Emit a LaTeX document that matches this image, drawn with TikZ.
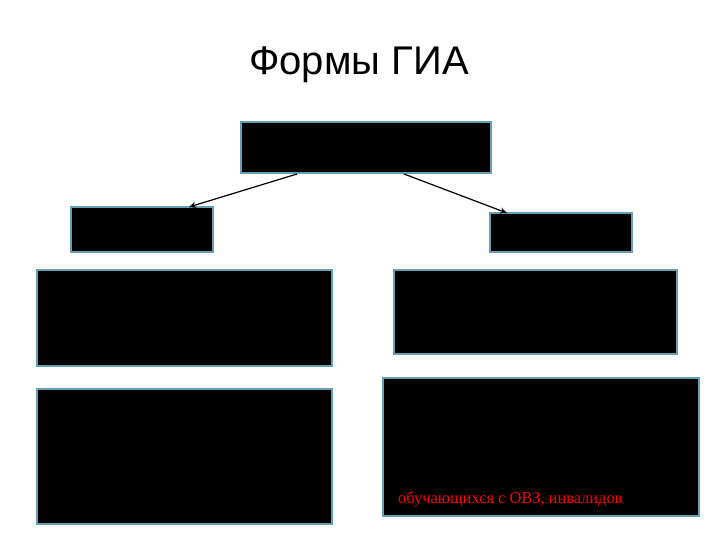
\documentclass[tikz,border=0pt]{standalone}
\usepackage{fontspec}
\setmainfont{Liberation Serif}
\newfontfamily\titlefont{Liberation Sans}
\usetikzlibrary{positioning, shapes, fit, calc, arrows.meta}
\definecolor{boxedge}{RGB}{100,160,180}

\begin{document}
\begin{tikzpicture}[x=1bp, y=-1bp, every node/.style={inner sep=0pt}]
			\tikzset{blackbox/.style={draw=boxedge, fill=black, line width=2bp, rectangle}}
			\useasboundingbox (0,0) rectangle (720,540);

			% Title
			\node[font=\titlefont\fontsize{40bp}{44bp}\selectfont, anchor=base] (Title) at (359,75) {Формы ГИА};

			% Draw the top box and the two small boxes
			\node[blackbox, minimum width=250bp, minimum height=51bp] (Top) at (366,147.5) {};
			\node[blackbox, minimum width=142bp, minimum height=45bp] (LeftSmall) at (142,229.5) {};
			\node[blackbox, minimum width=142bp, minimum height=39bp] (RightSmall) at (561,232.5) {};

			% Draw the big boxes below
			\node[blackbox, minimum width=295bp, minimum height=96bp] (LeftMid) at (184.5,318) {};
			\node[blackbox, minimum width=283bp, minimum height=84bp] (RightMid) at (535.5,312) {};
			\node[blackbox, minimum width=295bp, minimum height=135bp] (LeftLow) at (184.5,456.5) {};
			\node[blackbox, minimum width=316bp, minimum height=138bp] (RightLow) at (541,447) {};

			\node[text=red, font=\fontsize{16.4bp}{18bp}\selectfont, anchor=base west] (Note) at ($(RightLow.south west)+(16,-14)$) {обучающихся с ОВЗ, инвалидов};

			% Draw the arrows
			\draw[-{Stealth[length=7bp, width=6bp]}, line width=1.2bp] ($(Top.south west)+(57,0)$) -- ($(LeftSmall.north east)+(-25,1)$);
			\draw[-{Stealth[length=7bp, width=6bp]}, line width=1.2bp] ($(Top.south west)+(164,0)$) -- ($(RightSmall.north west)+(18,1)$);

		\end{tikzpicture}
\end{document}
